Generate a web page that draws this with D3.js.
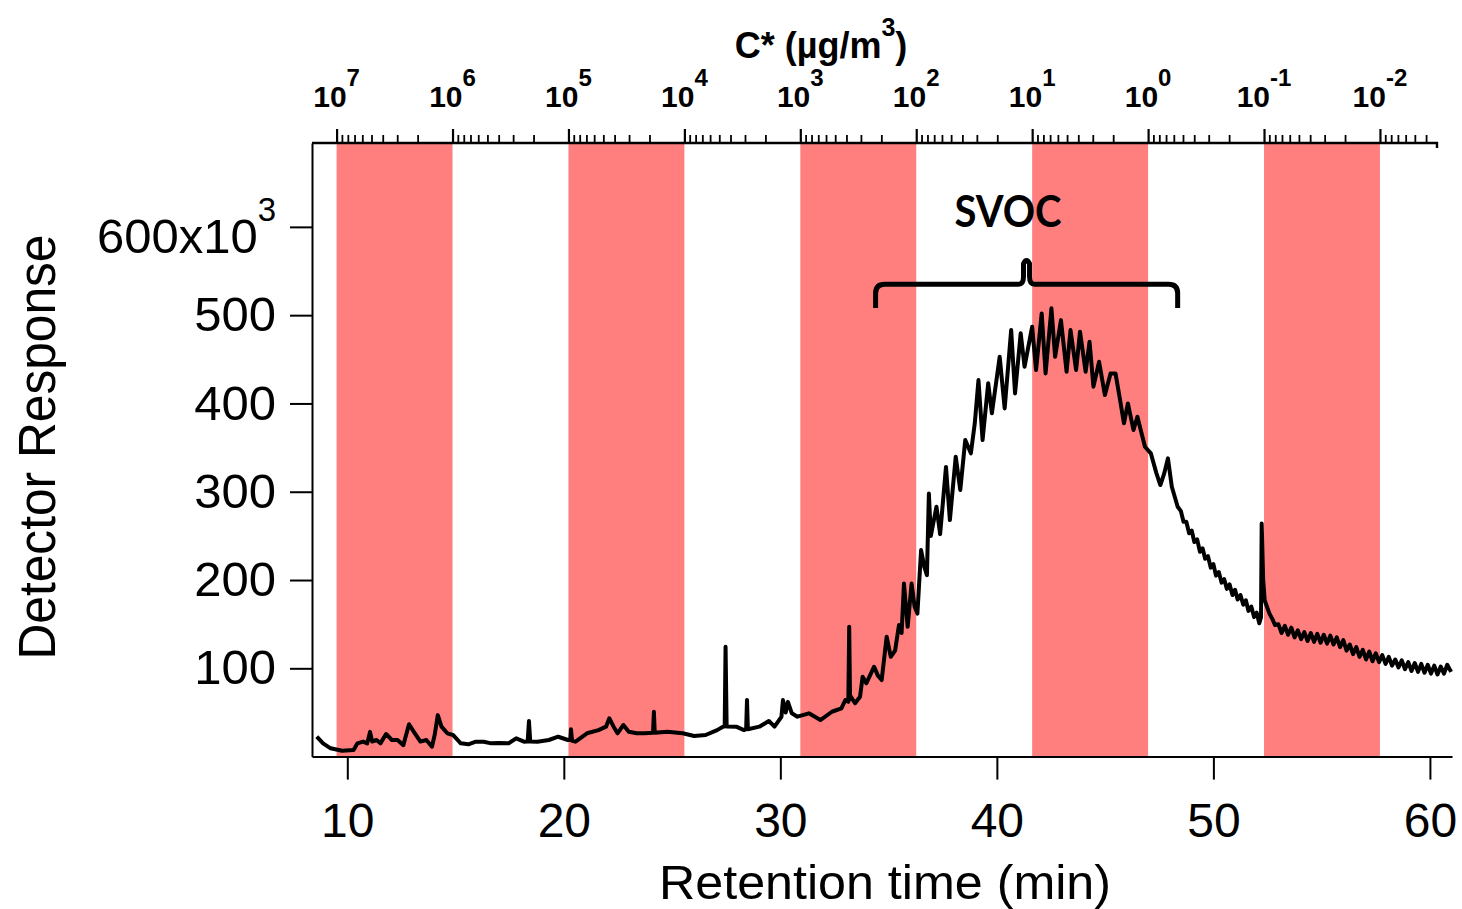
<!DOCTYPE html>
<html>
<head>
<meta charset="utf-8">
<script src="https://cdn.jsdelivr.net/npm/d3@7"></script>
<style>
  body { margin: 0; background: #fff; }
  svg { display: block; }
  text { font-family: "Liberation Sans", Arial, sans-serif; fill: #000; }
</style>
</head>
<body>
<svg id="chart" width="1462" height="909"></svg>
<script>
// Chromatogram samples: retention time (min)
const retentionTime = [
  8.59, 8.88, 9.23, 9.76, 10.29, 10.47, 10.73, 10.92, 11.05, 11.15, 11.35, 11.53, 11.79, 12.06, 12.32,
  12.59, 12.85, 13.12, 13.38, 13.65, 13.91, 14.04, 14.18, 14.35, 14.62, 14.88, 15.24, 15.59, 15.94, 16.3,
  16.65, 17.0, 17.45, 17.8, 18.16, 18.33, 18.39, 18.45, 18.78, 19.31, 19.74, 20.19, 20.3, 20.33, 20.38,
  20.54, 21.07, 21.6, 21.95, 22.1, 22.3, 22.48, 22.75, 23.0, 23.37, 23.72, 24.12, 24.16, 24.2, 24.78,
  25.49, 26.02, 26.55, 27.08, 27.35, 27.43, 27.47, 27.52, 27.96, 28.32, 28.42, 28.46, 28.5, 29.03, 29.47,
  29.73, 30.05, 30.12, 30.25, 30.35, 30.53, 30.79, 31.32, 31.85, 32.38, 32.82, 33.0, 33.14, 33.18, 33.22,
  33.26, 33.45, 33.68, 33.8, 33.97, 34.33, 34.5, 34.68, 34.91, 35.1, 35.3, 35.48, 35.6, 35.71, 35.88,
  36.06, 36.2, 36.33, 36.5, 36.65, 36.77, 36.86, 36.95, 37.21, 37.38, 37.65, 37.83, 38.1, 38.31, 38.54,
  38.8, 38.98, 39.15, 39.34, 39.6, 39.77, 40.13, 40.36, 40.66, 40.84, 41.1, 41.28, 41.63, 41.81, 42.07,
  42.25, 42.52, 42.69, 42.96, 43.22, 43.4, 43.66, 43.84, 44.1, 44.28, 44.46, 44.72, 44.99, 45.25, 45.48,
  45.69, 45.87, 46.05, 46.31, 46.49, 46.84, 47.11, 47.37, 47.55, 47.73, 47.9, 48.08, 48.35,
  48.5, 48.62, 48.75, 48.88, 49.0, 49.12, 49.25, 49.38, 49.5, 49.62, 49.75, 49.88, 50.0, 50.12, 50.25,
  50.38, 50.5, 50.62, 50.75, 50.88, 51.0, 51.12, 51.25, 51.38, 51.5, 51.62, 51.75, 51.88, 52.0, 52.12,
  52.2, 52.23, 52.3, 52.37, 52.47, 52.59, 52.72, 52.85,
  53.0, 53.15, 53.3, 53.45, 53.6, 53.75, 53.9, 54.05, 54.2, 54.35, 54.5, 54.65, 54.8, 54.95, 55.1,
  55.25, 55.4, 55.55, 55.7, 55.85, 56.0, 56.15, 56.3, 56.45, 56.6, 56.75, 56.9, 57.05, 57.2, 57.35,
  57.5, 57.65, 57.8, 57.95, 58.1, 58.25, 58.4, 58.55, 58.7, 58.85, 59.0, 59.15, 59.3, 59.45, 59.6,
  59.75, 59.9, 60.05, 60.2, 60.35, 60.5, 60.65, 60.8, 60.98
];

// Detector response at each sample (x10^3)
const detectorResponse = [
  22.5, 15, 9.4, 6.7, 7.5, 15, 17, 15, 28, 17, 18.8, 15, 25.6, 18.8, 18.8,
  13, 36.6, 26.4, 17, 18.8, 11.2, 25, 47, 33.9, 26.4, 24.5, 15, 13.9, 16.9, 16.9,
  15, 15.5, 15, 20.7, 16.9, 17, 40.3, 17, 16.9, 18.8, 22.5, 18.8, 19, 30.9, 18,
  16.9, 26.4, 30, 33.9, 43.4, 33.9, 26.4, 35.8, 28.2, 26.4, 26.4, 27, 50.8, 27, 28.2,
  26.4, 23.3, 24.5, 30, 33.9, 34, 124.5, 34, 33.9, 30, 31, 64, 31, 33.9, 40.3,
  33.9, 45, 64, 50, 62, 49, 45.2, 49, 41.4, 50.8, 54.7, 64, 62, 147, 65,
  67.8, 60.4, 67.8, 90.5, 83, 101.8, 92, 86.7, 135.8, 113, 120, 149, 140, 196, 147,
  196, 170, 162, 234, 215, 205.6, 298, 250, 283, 252, 328, 268, 339.6, 302, 358.6,
  343.5, 377.5, 426.5, 358.6, 422.8, 388.8, 452.9, 394.4, 483.1, 411.4, 479.4, 441.6, 486.9, 437.8, 502,
  434, 507.7, 452.9, 494.4, 435.9, 483.1, 437.8, 481.2, 435.9, 470, 419, 447.2, 409.5, 434, 434,
  403.9, 377.5, 400, 370, 385, 351, 343.5, 320.8, 307.6, 320.8, 337.8, 305.7, 283,
  278, 266, 266, 253, 256, 243, 246, 232, 236, 224, 227, 214, 218, 205, 209,
  197, 201, 190, 195, 183, 189, 178, 183, 172, 177, 165, 170, 158, 163, 151,
  158, 264, 200, 177, 170, 162, 156, 149,
  150, 140, 148, 138, 146, 135, 143, 133, 141, 131, 140, 130, 139, 129, 138,
  128, 137, 127, 135, 124, 132, 120, 127, 116, 124, 113, 121, 110, 119, 108,
  117, 107, 115, 105, 113, 103, 110, 101, 109, 99, 107, 97, 106, 96, 105,
  95, 104, 94, 103, 93, 102, 94, 104, 96
];

// Shaded volatility bins on the C* axis, [upper, lower] in µg/m³
const volatilityBins = [[1e7, 1e6], [1e5, 1e4], [1e3, 1e2], [1e1, 1e0], [1e-1, 1e-2]];
const cStarDecades = [1e7, 1e6, 1e5, 1e4, 1e3, 1e2, 1e1, 1e0, 1e-1, 1e-2];
const cStarExponents = ["7", "6", "5", "4", "3", "2", "1", "0", "-1", "-2"];
const timeTicks = [10, 20, 30, 40, 50, 60];
const responseTicks = [100, 200, 300, 400, 500, 600];
// Retention-time span grouped as SVOC, and the brace heights (x10^3)
const svocSpan = [34.4, 48.35];
const svocBrace = { centre: 41.37, leg: 508, bar: 535, peak: 563 };

const svg = d3.select("#chart");

const x = d3.scaleLinear().domain([8.37, 61.02]).range([312, 1452]);
const y = d3.scaleLinear().domain([0, 695]).range([756.6, 143]);
const cStar = d3.scaleLog().domain([1.63e7, 3.22e-3]).range([312, 1437]);

const plotTop = y.range()[1], plotBottom = y.range()[0];

// Shaded bins
svg.append("g").selectAll("rect").data(volatilityBins).join("rect")
  .attr("x", d => cStar(d[0]))
  .attr("width", d => cStar(d[1]) - cStar(d[0]))
  .attr("y", plotTop)
  .attr("height", plotBottom - plotTop)
  .attr("fill", "#ff7f7f");

// Chromatogram trace
const points = retentionTime.map((t, i) => [t, detectorResponse[i]]);
svg.append("path")
  .datum(points)
  .attr("fill", "none")
  .attr("stroke", "#000")
  .attr("stroke-width", 4)
  .attr("stroke-linejoin", "round")
  .attr("d", d3.line().x(d => x(d[0])).y(d => y(d[1])));

// Left axis
const yAxis = svg.append("g")
  .attr("transform", `translate(${x.range()[0]},0)`)
  .call(d3.axisLeft(y).tickValues(responseTicks).tickSize(22).tickSizeOuter(0).tickPadding(14)
    .tickFormat(d => d));
yAxis.select(".domain").attr("stroke-width", 2);
yAxis.selectAll(".tick line").attr("stroke-width", 2);
yAxis.attr("font-family", null).attr("font-size", null);
yAxis.selectAll(".tick text")
  .style("font-size", "49px")
  .each(function (d) {
    if (d === 600) {
      const t = d3.select(this).text(null).attr("dy", "0.53em");
      t.append("tspan").text("600x10");
      t.append("tspan").text("3").style("font-size", "33px").attr("dy", -32);
    }
  });

// Bottom axis
const xAxis = svg.append("g")
  .attr("transform", `translate(0,${plotBottom})`)
  .call(d3.axisBottom(x).tickValues(timeTicks).tickSize(23).tickSizeOuter(0).tickPadding(23));
xAxis.select(".domain").attr("stroke-width", 2);
xAxis.selectAll(".tick line").attr("stroke-width", 2);
xAxis.attr("font-family", null).attr("font-size", null);
xAxis.selectAll(".tick text").style("font-size", "48px");

// Top C* axis: minor and decade ticks
const minorValues = [];
for (let e = -3; e <= 7; e++) for (let m = 2; m <= 9; m++) {
  const v = m * Math.pow(10, e);
  if (v <= cStar.domain()[0] && v >= cStar.domain()[1]) minorValues.push(v);
}
const topMinor = svg.append("g").attr("transform", `translate(0,${plotTop})`)
  .call(d3.axisTop(cStar).tickValues(minorValues).tickSize(8).tickFormat(""));
topMinor.select(".domain").remove();
topMinor.selectAll(".tick line").attr("stroke-width", 1.8);
const topMajor = svg.append("g").attr("transform", `translate(0,${plotTop})`)
  .call(d3.axisTop(cStar).tickValues(cStarDecades).tickSize(14).tickFormat(""));
topMajor.select(".domain").remove();
topMajor.selectAll(".tick line").attr("stroke-width", 2.2);
svg.append("path")
  .attr("d", `M${cStar.range()[0]},${plotTop}H${cStar.range()[1]}v5`)
  .attr("fill", "none").attr("stroke", "#000").attr("stroke-width", 2.4);

const topLabels = svg.append("g").selectAll("text").data(cStarDecades).join("text")
  .attr("x", d => cStar(d))
  .attr("y", 107)
  .attr("text-anchor", "middle")
  .style("font-size", "30px")
  .style("font-weight", "bold");
topLabels.append("tspan").text("10");
topLabels.append("tspan").text((d, i) => cStarExponents[i]).style("font-size", "24px").attr("dy", -21);

// Axis titles
const cTitle = svg.append("text")
  .attr("x", 821).attr("y", 58)
  .attr("text-anchor", "middle")
  .style("font-size", "36px").style("font-weight", "bold");
cTitle.append("tspan").text("C* (\u00b5g/m");
cTitle.append("tspan").text("3").style("font-size", "25px").attr("dy", -22);
cTitle.append("tspan").text(")").attr("dy", 22);

svg.append("text")
  .attr("transform", "translate(55,447) rotate(-90)")
  .attr("text-anchor", "middle")
  .attr("textLength", 425).attr("lengthAdjust", "spacingAndGlyphs")
  .style("font-size", "51px")
  .text("Detector Response");

svg.append("text")
  .attr("x", 885).attr("y", 899)
  .attr("text-anchor", "middle")
  .attr("textLength", 452).attr("lengthAdjust", "spacingAndGlyphs")
  .style("font-size", "48px")
  .text("Retention time (min)");

// SVOC brace and label
const xl = x(svocSpan[0]), xr = x(svocSpan[1]), xm = x(svocBrace.centre);
const yl = y(svocBrace.leg), yb = y(svocBrace.bar), yp = y(svocBrace.peak);
const brace = d3.path();
brace.moveTo(xl, yl);
brace.lineTo(xl, yb + 9);
brace.quadraticCurveTo(xl, yb, xl + 9, yb);
brace.lineTo(xm - 8, yb);
brace.quadraticCurveTo(xm - 3, yb, xm - 3, yb - 8);
brace.lineTo(xm - 3, yp + 4);
brace.quadraticCurveTo(xm, yp - 2, xm + 3, yp + 4);
brace.lineTo(xm + 3, yb - 8);
brace.quadraticCurveTo(xm + 3, yb, xm + 8, yb);
brace.lineTo(xr - 9, yb);
brace.quadraticCurveTo(xr, yb, xr, yb + 9);
brace.lineTo(xr, yl);
svg.append("path").attr("d", brace.toString())
  .attr("fill", "none").attr("stroke", "#000").attr("stroke-width", 5);

svg.append("text")
  .attr("x", 1008).attr("y", 227)
  .attr("text-anchor", "middle")
  .attr("textLength", 107).attr("lengthAdjust", "spacingAndGlyphs")
  .style("font-family", "Lato, 'Open Sans', sans-serif")
  .style("font-size", "44px").style("font-weight", "bold")
  .text("SVOC");
</script>
</body>
</html>
